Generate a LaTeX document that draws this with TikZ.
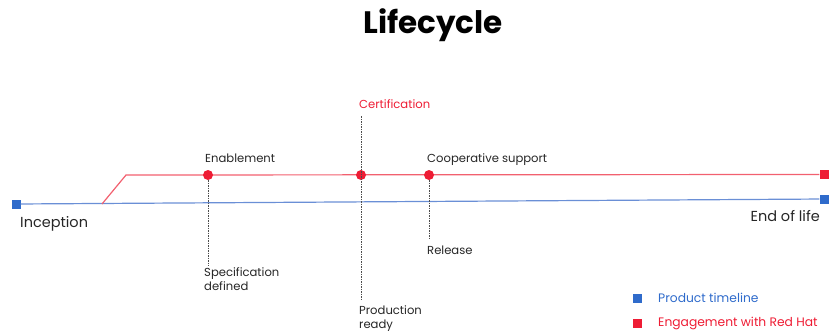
\documentclass[tikz,border=0pt]{standalone}
\usepackage{fontspec}
\setmainfont{Poppins}
\definecolor{rhred}{HTML}{EE1C34}
\definecolor{rhblue}{HTML}{2F6BCB}
\definecolor{lblue}{HTML}{6A8FD6}
\definecolor{lred}{HTML}{F2606F}
\begin{document}
\begin{tikzpicture}[x=1pt,y=-1pt,
  lbl/.style={inner sep=0pt,anchor=base west,font=\fontsize{11.6}{14.5}\selectfont,text=black!85},
  big/.style={font=\fontsize{14.5}{17}\selectfont},
  leg/.style={font=\fontsize{12.3}{15}\selectfont},
  dot/.style={circle,fill=rhred,minimum size=10pt,inner sep=0pt},
  sq/.style={rectangle,minimum size=9pt,inner sep=0pt},
  guide/.style={black!70,line width=0.5pt,dash pattern=on 1.5pt off 1pt}]
\useasboundingbox (0,0) rectangle (830,333);
\node[font=\fontsize{31}{35}\selectfont\bfseries] (title) at (433,25) {Lifecycle};
% blue timeline
\node[sq,fill=rhblue] (bs) at (16,204) {};
\node[sq,fill=rhblue] (be) at (824,199) {};
\draw[lblue,line width=1.2pt] (bs) -- (be);
% red engagement line
\coordinate (rs) at (102,204);
\coordinate (rk) at (126,175);
\node[sq,fill=rhred] (re) at (824,174.5) {};
\draw[lred,line width=1.2pt] (rs) -- (rk) -- (re.west);
% dots
\node[dot] (en) at (208,175) {};
\node[dot] (ce) at (361,175) {};
\node[dot] (co) at (429,175) {};
% guides
\coordinate (sp) at (208,266);
\coordinate (ct) at (361,116);
\coordinate (pr) at (361,300);
\coordinate (rl) at (429,238);
\draw[guide] (en) -- (sp);
\draw[guide] (ct) -- (pr);
\draw[guide] (co) -- (rl);
% labels
\node[lbl] (l1) at (205,162) {Enablement};
\node[lbl,text=rhred] (l2) at (359,108) {Certification};
\node[lbl] (l3) at (427,162) {Cooperative support};
\node[lbl,big] (l4) at (20,227) {Inception};
\node[lbl,big,anchor=base east] (l5) at (820,221) {End of life};
\node[lbl] (l6) at (427,254) {Release};
\node[lbl,align=left,anchor=north west] (l7) at (204,267) {Specification\\defined};
\node[lbl,align=left,anchor=north west] (l8) at (359,305) {Production\\ready};
% legend
\node[sq,fill=rhblue] (k1) at (637,298) {};
\node[lbl,leg,text=rhblue,anchor=west] (t1) at (658,298) {Product timeline};
\node[sq,fill=rhred] (k2) at (637,323) {};
\node[lbl,leg,text=rhred,anchor=west] (t2) at (658,323) {Engagement with Red Hat};
\end{tikzpicture}
\end{document}
